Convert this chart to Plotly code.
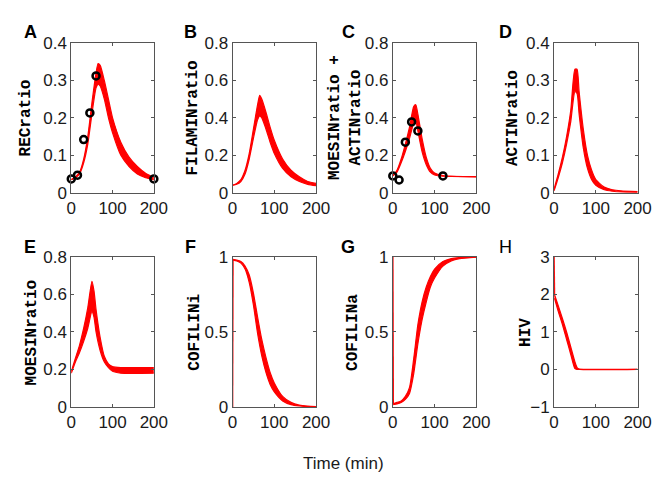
import plotly.graph_objects as go
from plotly.subplots import make_subplots

W, H = 664, 479

# ---- data ----
# A: RECratio
t_a = [0, 10, 20, 30, 40, 50, 60, 65, 70, 80, 90, 100, 120, 140, 160, 180, 200]
a_lo = [0.035, 0.040, 0.050, 0.080, 0.130, 0.210, 0.280, 0.290, 0.285, 0.250, 0.200, 0.160, 0.100, 0.070, 0.050, 0.040, 0.034]
a_hi = [0.035, 0.042, 0.055, 0.090, 0.150, 0.240, 0.320, 0.345, 0.340, 0.300, 0.250, 0.200, 0.135, 0.095, 0.070, 0.052, 0.040]
a_obs_t = [0, 15, 30, 45, 60, 200]
a_obs = [0.037, 0.047, 0.142, 0.213, 0.312, 0.037]

# B: FILAMINratio
t_b = [0, 10, 20, 30, 40, 50, 60, 65, 70, 80, 90, 100, 120, 140, 160, 180, 200]
b_lo = [0.040, 0.045, 0.060, 0.100, 0.180, 0.290, 0.390, 0.410, 0.400, 0.340, 0.270, 0.210, 0.130, 0.085, 0.060, 0.045, 0.038]
b_hi = [0.040, 0.050, 0.070, 0.120, 0.210, 0.340, 0.470, 0.520, 0.500, 0.430, 0.350, 0.280, 0.180, 0.120, 0.085, 0.060, 0.050]

# C: MOESINratio + ACTINratio
t_c = [0, 10, 20, 30, 40, 50, 55, 60, 70, 80, 90, 100, 120, 140, 200]
c_lo = [0.090, 0.110, 0.160, 0.220, 0.290, 0.370, 0.380, 0.330, 0.220, 0.150, 0.110, 0.095, 0.088, 0.087, 0.085]
c_hi = [0.090, 0.120, 0.180, 0.260, 0.350, 0.460, 0.470, 0.420, 0.290, 0.190, 0.130, 0.105, 0.092, 0.088, 0.086]
c_obs_t = [0, 15, 30, 45, 60, 120]
c_obs = [0.090, 0.068, 0.270, 0.378, 0.330, 0.090]

# D: ACTINratio
t_d = [0, 10, 20, 30, 40, 50, 55, 60, 70, 80, 90, 100, 120, 140, 160, 200]
d_lo = [0.005, 0.040, 0.080, 0.130, 0.190, 0.270, 0.265, 0.210, 0.120, 0.065, 0.035, 0.020, 0.008, 0.004, 0.002, 0.001]
d_hi = [0.010, 0.050, 0.095, 0.150, 0.220, 0.330, 0.330, 0.270, 0.170, 0.100, 0.060, 0.035, 0.015, 0.008, 0.005, 0.003]

# E: MOESINratio
t_e = [0, 10, 20, 30, 40, 50, 55, 60, 70, 80, 90, 100, 120, 200]
e_lo = [0.180, 0.240, 0.290, 0.350, 0.420, 0.510, 0.480, 0.400, 0.300, 0.240, 0.210, 0.190, 0.180, 0.180]
e_hi = [0.190, 0.260, 0.330, 0.420, 0.530, 0.670, 0.620, 0.520, 0.370, 0.270, 0.230, 0.215, 0.210, 0.210]

# F: COFILINi (initial value at t=0, then jump)
t_f = [0, 1, 10, 20, 30, 40, 50, 60, 70, 80, 90, 100, 120, 140, 160, 180, 200]
f_lo = [0.0, 0.980, 0.975, 0.960, 0.920, 0.830, 0.680, 0.490, 0.340, 0.230, 0.150, 0.100, 0.040, 0.015, 0.006, 0.002, 0.001]
f_hi = [0.0, 0.985, 0.980, 0.970, 0.940, 0.880, 0.760, 0.600, 0.450, 0.330, 0.230, 0.160, 0.070, 0.030, 0.012, 0.005, 0.002]

# G: COFILINa
t_g = [0, 1, 10, 20, 30, 40, 50, 60, 70, 80, 90, 100, 120, 140, 160, 200]
g_lo = [1.0, 0.015, 0.020, 0.030, 0.050, 0.090, 0.220, 0.420, 0.580, 0.700, 0.800, 0.860, 0.940, 0.975, 0.990, 1.0]
g_hi = [1.0, 0.020, 0.030, 0.040, 0.070, 0.130, 0.320, 0.550, 0.700, 0.800, 0.870, 0.920, 0.970, 0.990, 0.997, 1.0]

# H: HIV
t_h = [0, 1, 10, 20, 30, 40, 50, 55, 60, 200]
h_lo = [3.0, 1.90, 1.55, 1.20, 0.80, 0.40, 0.02, 0.0, 0.0, 0.0]
h_hi = [3.0, 2.00, 1.70, 1.36, 1.00, 0.60, 0.20, 0.05, 0.01, 0.0]

# letter, y title, t, low, high, y range, y ticks, observations, starts with a jump
panels = [
    ("A", "RECratio", t_a, a_lo, a_hi, [0, 0.4], [0, 0.1, 0.2, 0.3, 0.4], (a_obs_t, a_obs), False),
    ("B", "FILAMINratio", t_b, b_lo, b_hi, [0, 0.8], [0, 0.2, 0.4, 0.6, 0.8], None, False),
    ("C", "MOESINratio +<br>ACTINratio", t_c, c_lo, c_hi, [0, 0.8], [0, 0.2, 0.4, 0.6, 0.8], (c_obs_t, c_obs), False),
    ("D", "ACTINratio", t_d, d_lo, d_hi, [0, 0.4], [0, 0.1, 0.2, 0.3, 0.4], None, False),
    ("E", "MOESINratio", t_e, e_lo, e_hi, [0, 0.8], [0, 0.2, 0.4, 0.6, 0.8], None, False),
    ("F", "COFILINi", t_f, f_lo, f_hi, [0, 1], [0, 0.5, 1], None, True),
    ("G", "COFILINa", t_g, g_lo, g_hi, [0, 1], [0, 0.5, 1], None, True),
    ("H", "HIV", t_h, h_lo, h_hi, [-1, 3], [-1, 0, 1, 2, 3], None, True),
]

# pixel boxes of the axes
col_px = [(60, 145), (226, 312), (391, 477), (557, 643)]
row_px = [(27, 183), (250, 406)]
label_x = [[13, 185, 343, 515], [20, 187, 350, 528]]   # y-title centres
letter_x = [18, 183, 345, 507]
letter_y = [16, 239]

fig = make_subplots(rows=2, cols=4)
RED = "#ff0000"
TICKFONT = dict(family="Liberation Sans, Arial", size=17, color="#1a1a1a")
SPL = dict(color=RED, width=1.2, shape="spline", smoothing=0.6)

for i, (letter, ylab, t, lo, hi, yr, yt, obs, jump) in enumerate(panels):
    r, c = i // 4, i % 4
    k = 1 if jump else 0
    if jump:
        # initial condition at t=0, straight jump to the first computed value
        fig.add_trace(go.Scatter(x=t[:2], y=hi[:2], mode="lines", line=dict(color=RED, width=1.5),
                                 showlegend=False, hoverinfo="skip"), row=r + 1, col=c + 1)
    fig.add_trace(go.Scatter(x=t[k:], y=hi[k:], mode="lines", line=SPL,
                             showlegend=False, hoverinfo="skip"), row=r + 1, col=c + 1)
    fig.add_trace(go.Scatter(x=t[k:], y=lo[k:], mode="lines", line=SPL,
                             fill="tonexty", fillcolor=RED, showlegend=False, hoverinfo="skip"), row=r + 1, col=c + 1)
    if obs is not None:
        fig.add_trace(go.Scatter(x=obs[0], y=obs[1], mode="markers",
                                 marker=dict(symbol="circle-open", size=7, color="black", line=dict(width=2.5)),
                                 showlegend=False, cliponaxis=False), row=r + 1, col=c + 1)

    x0, x1 = col_px[c]
    y0, y1 = row_px[r]
    fig.update_xaxes(domain=[x0 / W, x1 / W], range=[0, 200], tickvals=[0, 100, 200], row=r + 1, col=c + 1)
    fig.update_yaxes(domain=[1 - y1 / H, 1 - y0 / H], range=yr, tickvals=yt, row=r + 1, col=c + 1)

    ycen = 1 - (y0 + y1) / 2 / H
    fig.add_annotation(x=label_x[r][c] / W, y=ycen, xref="paper", yref="paper",
                       text="<b>%s</b>" % ylab, textangle=-90, showarrow=False,
                       font=dict(family="Liberation Mono, Courier New", size=16, color="black"),
                       xanchor="center", yanchor="middle")
    fig.add_annotation(x=letter_x[c] / W, y=1 - letter_y[r] / H, xref="paper", yref="paper",
                       text=("<b>%s</b>" % letter) if letter != "H" else letter, showarrow=False,
                       font=dict(family="Liberation Sans, Arial", size=18, color="black"),
                       xanchor="center", yanchor="middle")

fig.update_xaxes(showline=True, linecolor="#555555", linewidth=1, mirror="ticks", ticks="inside", ticklen=3,
                 tickcolor="#555555", showgrid=False, zeroline=False, tickfont=TICKFONT)
fig.update_yaxes(showline=True, linecolor="#555555", linewidth=1, mirror="ticks", ticks="inside", ticklen=3,
                 tickcolor="#555555", showgrid=False, zeroline=False, tickfont=TICKFONT)

fig.add_annotation(x=340 / W, y=1 - 465 / H, xref="paper", yref="paper", text="Time (min)", showarrow=False,
                   font=dict(family="Liberation Sans, Arial", size=17, color="#1a1a1a"),
                   xanchor="center", yanchor="middle")

fig.update_layout(width=W, height=H, margin=dict(l=0, r=0, t=0, b=0),
                  paper_bgcolor="white", plot_bgcolor="white")

fig.write_html("out.html")
